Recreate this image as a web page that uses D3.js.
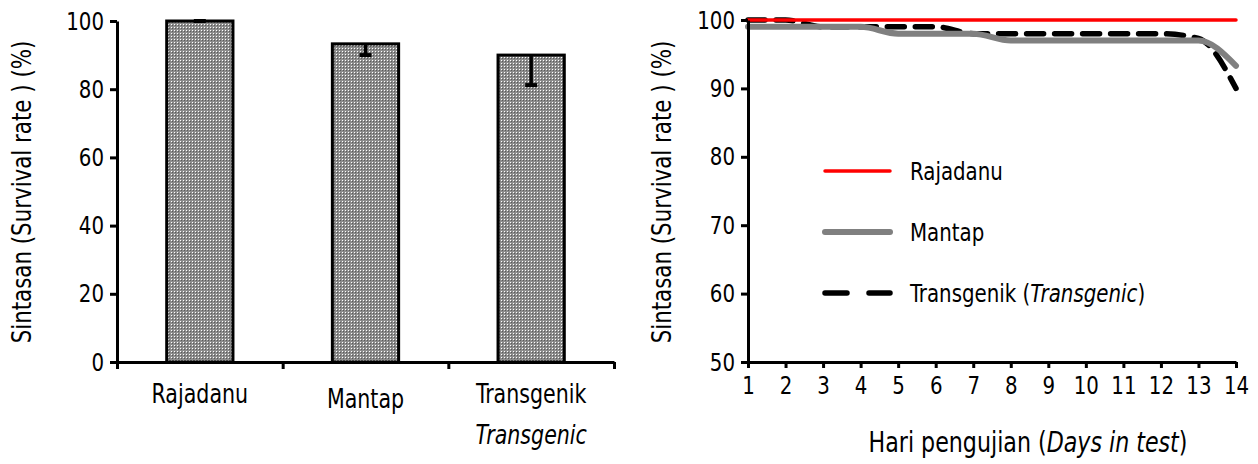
<!DOCTYPE html>
<html>
<head>
<meta charset="utf-8">
<script src="https://cdn.jsdelivr.net/npm/d3@7"></script>
<style>
  body { margin: 0; background: #fff; }
  svg { display: block; }
  text { font-family: "DejaVu Sans Condensed", "DejaVu Sans", sans-serif; fill: #000; }
</style>
</head>
<body>
<svg id="chart" width="1258" height="464"></svg>
<script>
// bar chart data
const varieties = ['Rajadanu', 'Mantap', 'Transgenik'];
const varietySub = ['', '', 'Transgenic'];
const survival = [100, 93.3, 90];
const survivalErr = [0, 3.3, 8.8];
const barTicks = [0, 20, 40, 60, 80, 100];

// line chart data
const days = [1, 2, 3, 4, 5, 6, 7, 8, 9, 10, 11, 12, 13, 14];
const rajadanuDaily = [100, 100, 100, 100, 100, 100, 100, 100, 100, 100, 100, 100, 100, 100];
const mantapDaily = [99, 99, 99, 99, 98, 98, 98, 97, 97, 97, 97, 97, 97, 93.3];
const transgenikDaily = [100, 100, 99, 99, 99, 99, 98, 98, 98, 98, 98, 98, 97.3, 90];
const lineTicks = [50, 60, 70, 80, 90, 100];

const svg = d3.select('#chart');

// dotted bar fill
const defs = svg.append('defs');
const pat = defs.append('pattern')
    .attr('id', 'dots')
    .attr('patternUnits', 'userSpaceOnUse')
    .attr('width', 3).attr('height', 3);
pat.append('rect').attr('width', 3).attr('height', 3).attr('fill', '#8c8c8c');
pat.append('rect').attr('width', 1).attr('height', 1).attr('fill', '#ffffff');
pat.append('rect').attr('x', 1).attr('y', 1).attr('width', 1).attr('height', 1).attr('fill', '#5a5a5a');

function styleAxis(g) {
    g.select('.domain').attr('stroke', '#000').attr('stroke-width', 3);
    g.selectAll('.tick line').attr('stroke', '#000').attr('stroke-width', 3);
    g.selectAll('.tick text').attr('font-size', 25).attr('font-family', null);
}

// text with an italic middle part, e.g. "Hari pengujian (Days in test)"
function mixedText(t, before, italic, after) {
    t.append('tspan').text(before);
    t.append('tspan').attr('font-style', 'italic').text(italic);
    t.append('tspan').text(after);
}

// ---------- left: bar chart ----------
const left = {x0: 117, x1: 614, y0: 362, y1: 21};

const xBand = d3.scaleBand()
    .domain(varieties)
    .range([left.x0, left.x1])
    .paddingInner(0.6)
    .paddingOuter(0.3);
const xEdge = d3.scaleLinear().domain([0, varieties.length]).range([left.x0, left.x1]);
const yBar = d3.scaleLinear().domain([0, 100]).range([left.y0, left.y1]);

const bars = varieties.map((v, i) => ({name: v, sub: varietySub[i], value: survival[i], err: survivalErr[i]}));
const mid = d => xBand(d.name) + xBand.bandwidth() / 2;

svg.append('g')
    .selectAll('rect')
    .data(bars)
    .join('rect')
    .attr('x', d => xBand(d.name))
    .attr('y', d => yBar(d.value))
    .attr('width', xBand.bandwidth())
    .attr('height', d => yBar(0) - yBar(d.value))
    .attr('fill', 'url(#dots)')
    .attr('stroke', '#000')
    .attr('stroke-width', 3);

const errG = svg.append('g').attr('stroke', '#000');
errG.selectAll('line.err')
    .data(bars)
    .join('line')
    .attr('class', 'err')
    .attr('x1', mid).attr('x2', mid)
    .attr('y1', d => yBar(d.value))
    .attr('y2', d => yBar(d.value - d.err))
    .attr('stroke-width', 3.5);
errG.selectAll('line.cap')
    .data(bars)
    .join('line')
    .attr('class', 'cap')
    .attr('x1', d => mid(d) - 6)
    .attr('x2', d => mid(d) + 6)
    .attr('y1', d => yBar(d.value - d.err))
    .attr('y2', d => yBar(d.value - d.err))
    .attr('stroke-width', 4);

svg.append('g')
    .attr('transform', `translate(${left.x0},0)`)
    .call(d3.axisLeft(yBar).tickValues(barTicks).tickSize(7).tickSizeOuter(0).tickPadding(6))
    .call(styleAxis);

svg.append('g')
    .attr('transform', `translate(0,${left.y0})`)
    .call(d3.axisBottom(xEdge).tickValues(d3.range(varieties.length + 1)).tickFormat('').tickSize(7).tickSizeOuter(0))
    .call(styleAxis);

const catLabels = svg.append('g').attr('font-size', 26).attr('text-anchor', 'middle');
catLabels.selectAll('text.cat')
    .data(bars)
    .join('text')
    .attr('class', 'cat')
    .attr('x', mid)
    .attr('y', (d, i) => i === 1 ? 408 : 403)
    .text(d => d.name);
catLabels.selectAll('text.sub')
    .data(bars.filter(d => d.sub))
    .join('text')
    .attr('class', 'sub')
    .attr('x', mid)
    .attr('y', 444)
    .attr('font-style', 'italic')
    .text(d => d.sub);

svg.append('text')
    .attr('transform', 'translate(31,192) rotate(-90)')
    .attr('text-anchor', 'middle')
    .attr('font-size', 27)
    .text('Sintasan (Survival rate ) (%)');

// ---------- right: line chart ----------
const right = {x0: 748, x1: 1236, y0: 362, y1: 20};

const xDay = d3.scaleLinear().domain([1, 14]).range([right.x0, right.x1]);
const yLine = d3.scaleLinear().domain([50, 100]).range([right.y0, right.y1]);

const series = [
    {name: 'Rajadanu', values: rajadanuDaily, color: '#ff0000', width: 3.5, dash: null, legendDash: null},
    {name: 'Mantap', values: mantapDaily, color: '#808080', width: 6, dash: null, legendDash: null},
    {name: 'Transgenik', values: transgenikDaily, color: '#000000', width: 5.5, dash: '17,11', legendDash: '22,22'}
];

const line = d3.line()
    .x((d, i) => xDay(days[i]))
    .y(d => yLine(d))
    .curve(d3.curveMonotoneX);

svg.append('g')
    .selectAll('path')
    .data(series.slice().reverse())
    .join('path')
    .attr('d', d => line(d.values))
    .attr('fill', 'none')
    .attr('stroke', d => d.color)
    .attr('stroke-width', d => d.width)
    .attr('stroke-dasharray', d => d.dash)
    .attr('stroke-linecap', 'round')
    .attr('stroke-linejoin', 'round');

svg.append('g')
    .attr('transform', `translate(${right.x0},0)`)
    .call(d3.axisLeft(yLine).tickValues(lineTicks).tickSize(7).tickSizeOuter(0).tickPadding(6))
    .call(styleAxis);

svg.append('g')
    .attr('transform', `translate(0,${right.y0})`)
    .call(d3.axisBottom(xDay).tickValues(days).tickFormat(d3.format('d')).tickSize(6).tickSizeOuter(0).tickPadding(8))
    .call(styleAxis);

svg.append('text')
    .attr('transform', 'translate(671,192) rotate(-90)')
    .attr('text-anchor', 'middle')
    .attr('font-size', 27)
    .text('Sintasan (Survival rate ) (%)');

svg.append('text')
    .attr('x', 1028)
    .attr('y', 452)
    .attr('text-anchor', 'middle')
    .attr('font-size', 28)
    .call(mixedText, 'Hari pengujian (', 'Days in test', ')');

// legend
const legendY = [171, 232, 293];
const legend = svg.append('g').attr('font-size', 25);
series.forEach((s, i) => {
    legend.append('line')
        .attr('x1', 825).attr('x2', 890)
        .attr('y1', legendY[i]).attr('y2', legendY[i])
        .attr('stroke', s.color)
        .attr('stroke-width', s.width)
        .attr('stroke-dasharray', s.legendDash)
        .attr('stroke-linecap', 'round');
    const t = legend.append('text')
        .attr('x', 910)
        .attr('y', legendY[i] + 9);
    if (s.name === 'Transgenik') {
        t.call(mixedText, 'Transgenik (', 'Transgenic', ')');
    } else {
        t.text(s.name);
    }
});

// the original face is a narrow one: squeeze every label horizontally
// (texts built from tspans get squeezed piece by piece)
const squeeze = 0.88;
svg.selectAll('text').each(function() {
    const parts = this.querySelectorAll('tspan');
    const targets = parts.length ? Array.from(parts) : [this];
    const lens = targets.map(el => el.getComputedTextLength());
    targets.forEach((el, k) => {
        d3.select(el)
            .attr('textLength', lens[k] * squeeze)
            .attr('lengthAdjust', 'spacingAndGlyphs');
    });
});
</script>
</body>
</html>
